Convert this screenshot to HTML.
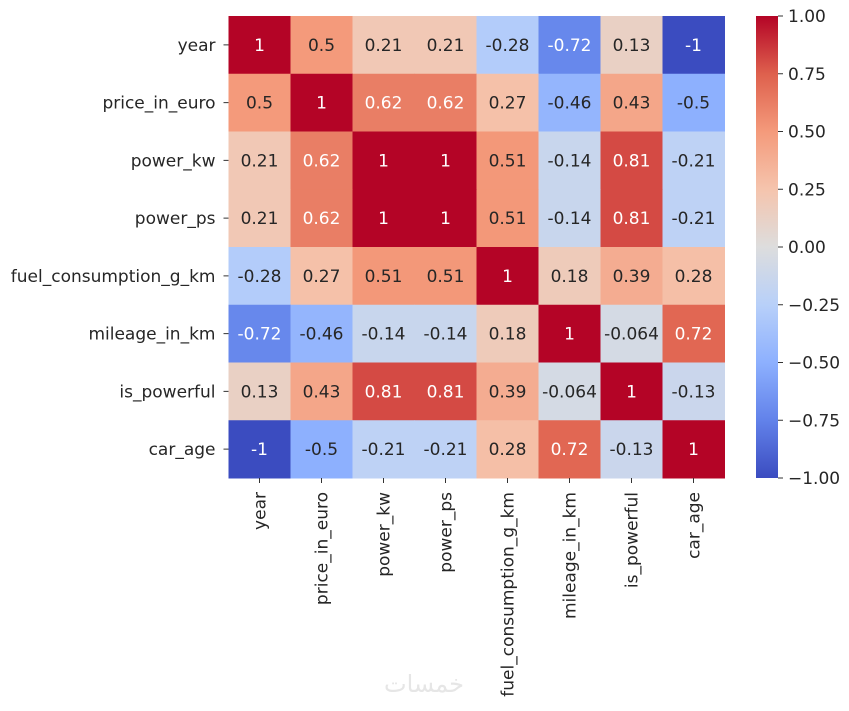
<!DOCTYPE html>
<html><head><meta charset="utf-8"><style>
body{margin:0;background:#fff;}
svg text{font-family:"DejaVu Sans","Liberation Sans",sans-serif;}
</style></head><body>
<svg id="chart" width="849" height="706" viewBox="0 0 849 706" xmlns="http://www.w3.org/2000/svg">
<defs>
<linearGradient id="cw" x1="0" y1="1" x2="0" y2="0">
<stop offset="0" stop-color="rgb(59,76,192)"/>
<stop offset="0.125" stop-color="rgb(98,130,234)"/>
<stop offset="0.25" stop-color="rgb(141,176,254)"/>
<stop offset="0.375" stop-color="rgb(184,208,249)"/>
<stop offset="0.5" stop-color="rgb(221,221,221)"/>
<stop offset="0.625" stop-color="rgb(245,196,173)"/>
<stop offset="0.75" stop-color="rgb(244,154,123)"/>
<stop offset="0.875" stop-color="rgb(222,96,77)"/>
<stop offset="1" stop-color="rgb(180,4,38)"/>
</linearGradient>
</defs>
<g id="cells"></g>
<rect x="756" y="16" width="22" height="462" fill="url(#cw)"/>
<g id="cbticks"></g>
<text x="424" y="692" font-size="24" fill="#e6e6e6" text-anchor="middle" font-family="DejaVu Sans, sans-serif">خمسات</text>
</svg>
<script>
const labels = ["year","price_in_euro","power_kw","power_ps","fuel_consumption_g_km","mileage_in_km","is_powerful","car_age"];
const values = [
[1,0.5,0.21,0.21,-0.28,-0.72,0.13,-1],
[0.5,1,0.62,0.62,0.27,-0.46,0.43,-0.5],
[0.21,0.62,1,1,0.51,-0.14,0.81,-0.21],
[0.21,0.62,1,1,0.51,-0.14,0.81,-0.21],
[-0.28,0.27,0.51,0.51,1,0.18,0.39,0.28],
[-0.72,-0.46,-0.14,-0.14,0.18,1,-0.064,0.72],
[0.13,0.43,0.81,0.81,0.39,-0.064,1,-0.13],
[-1,-0.5,-0.21,-0.21,0.28,0.72,-0.13,1]];
const cbTicks = [1,0.75,0.5,0.25,0,-0.25,-0.5,-0.75,-1];
const NS="http://www.w3.org/2000/svg";
const X0=228.5,X1=724.5,Y0=16,Y1=478;
const FS=17;
const cw=(X1-X0)/labels.length, ch=(Y1-Y0)/labels.length;
const anchors=[[59,76,192],[98,130,234],[141,176,254],[184,208,249],[221,221,221],[245,196,173],[244,154,123],[222,96,77],[180,4,38]];
function color(v){let t=(v+1)/2*8;let i=Math.min(7,Math.max(0,Math.floor(t)));let f=t-i;let a=anchors[i],b=anchors[i+1];return a.map((c,k)=>Math.round(c+(b[k]-c)*f));}
function lum(c){const l=c.map(x=>{x/=255;return x<=0.03928?x/12.92:Math.pow((x+0.055)/1.055,2.4)});return 0.2126*l[0]+0.7152*l[1]+0.0722*l[2];}
function yScale(v){return Y1-(v+1)/2*(Y1-Y0);}
function mk(tag,attrs,parent){const e=document.createElementNS(NS,tag);for(const k in attrs)e.setAttribute(k,attrs[k]);parent.appendChild(e);return e;}
const g=document.getElementById('cells'),svg=document.getElementById('chart');
values.forEach((row,r)=>{row.forEach((v,c)=>{
 const col=color(v);
 const rect=mk('rect',{x:X0+c*cw,y:Y0+r*ch,width:cw+0.5,height:ch+0.5,fill:`rgb(${col})`},g);
 
 
 const t=mk('text',{x:X0+(c+0.5)*cw,y:Y0+(r+0.5)*ch+6,'font-size':FS,'text-anchor':'middle',fill:lum(col)>0.408?'#262626':'#ffffff'},g);
 
 
 t.textContent=String(v);
});});
labels.forEach((l,i)=>{
 const y=Y0+(i+0.5)*ch;
 const tk=mk('line',{x1:X0-5,x2:X0,y1:y,y2:y,stroke:'#333'},svg);
 
 
 const t=mk('text',{x:X0-13,y:y+6,'font-size':FS,'text-anchor':'end',fill:'#262626'},svg);
 
 
 t.textContent=l;
 const x=X0+(i+0.5)*cw;
 const tk2=mk('line',{x1:x,x2:x,y1:Y1,y2:Y1+5,stroke:'#333'},svg);
 
 
 const t2=mk('text',{x:0,y:0,'font-size':FS,'text-anchor':'end',fill:'#262626',transform:`translate(${x+6},${Y1+14}) rotate(-90)`},svg);
 
 
 t2.textContent=l;
});
const cb=document.getElementById('cbticks');
cbTicks.forEach(v=>{
 const y=yScale(v);
 const tk=mk('line',{x1:778,x2:783,y1:y,y2:y,stroke:'#333'},cb);
 
 
 const t=mk('text',{x:788,y:y+6,'font-size':FS,fill:'#262626'},cb);
 
 
 t.textContent=(v<0?'\u2212':'')+Math.abs(v).toFixed(2);
});
</script>
</body></html>
